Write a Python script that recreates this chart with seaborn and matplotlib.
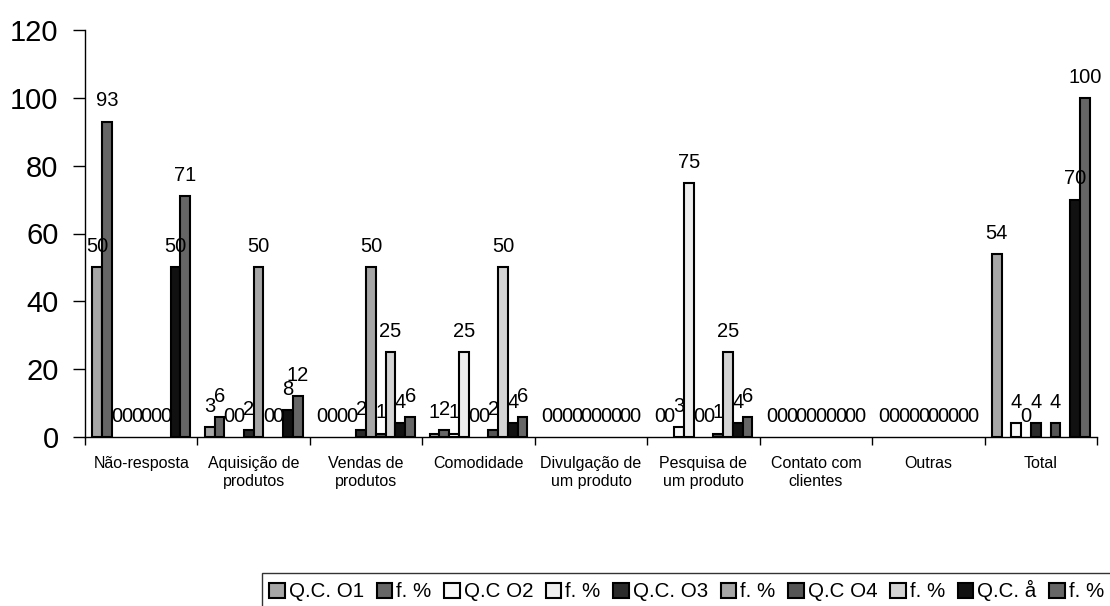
import numpy as np
import pandas as pd
import matplotlib
matplotlib.use("Agg")
import matplotlib.pyplot as plt
import seaborn as sns

categories = ["Não-resposta", "Aquisição de\nprodutos", "Vendas de\nprodutos", "Comodidade",
              "Divulgação de\num produto", "Pesquisa de\num produto", "Contato com\nclientes",
              "Outras", "Total"]
series_labels = ["Q.C. O1", "f. %", "Q.C O2", "f. %", "Q.C. O3", "f. %", "Q.C O4", "f. %", "Q.C. å", "f. %"]
nan = np.nan
s1 = [50, 3, 0, 1, 0, 0, 0, 0, 54]
s2 = [93, 6, 0, 2, 0, 0, 0, 0, nan]
s3 = [0, 0, 0, 1, 0, 3, 0, 0, 4]
s4 = [0, 0, 0, 25, 0, 75, 0, 0, 0]
s5 = [0, 2, 2, 0, 0, 0, 0, 0, 4]
s6 = [0, 50, 50, 0, 0, 0, 0, 0, nan]
s7 = [0, 0, 1, 2, 0, 1, 0, 0, 4]
s8 = [0, 0, 25, 50, 0, 25, 0, 0, nan]
s9 = [50, 8, 4, 4, 0, 4, 0, 0, 70]
s10 = [71, 12, 6, 6, 0, 6, 0, 0, 100]
series_values = [s1, s2, s3, s4, s5, s6, s7, s8, s9, s10]
colors = ["#A6A6A6", "#666666", "#F8F8F8", "#EEEEEE", "#2B2B2B",
          "#A6A6A6", "#555555", "#D4D4D4", "#111111", "#666666"]

keys = [f"s{i}" for i in range(len(series_labels))]
rows = []
for k, vals in zip(keys, series_values):
    for c, v in zip(categories, vals):
        rows.append({"cat": c, "key": k, "val": v})
df = pd.DataFrame(rows)

sns.set_style("white")
plt.rcParams["font.family"] = ["Liberation Sans", "DejaVu Sans"]
plt.rcParams["text.color"] = "black"
plt.rcParams["xtick.color"] = "black"
plt.rcParams["ytick.color"] = "black"
plt.rcParams["axes.labelcolor"] = "black"

fig = plt.figure(figsize=(11.1, 6.06), dpi=100)
ax = fig.add_axes([85/1110, 1-437/606, (1097-85)/1110, (437-30)/606])

sns.barplot(data=df, x="cat", y="val", hue="key", hue_order=keys, order=categories,
            palette=dict(zip(keys, colors)), saturation=1, width=0.87, dodge=True,
            edgecolor="black", linewidth=1.5, errorbar=None, ax=ax)

for cont in ax.containers:
    ax.bar_label(cont, labels=[f"{r.get_height():g}" for r in cont], padding=8,
                 fontsize=14.5, color="black")
    for r in cont:
        if r.get_height() == 0:
            r.set_linewidth(0)

ax.set_ylim(0, 120)
ax.set_xlim(-0.5, len(categories) - 0.5)
ax.set_yticks(range(0, 121, 20))
ax.tick_params(axis="y", labelsize=21, length=9, width=1, direction="out", pad=10, left=True)
ax.set_xticks(range(len(categories)))
ax.set_xticklabels(categories, fontsize=11.5)
ax.tick_params(axis="x", which="major", length=0, pad=14)
ax.set_xticks(np.arange(-0.5, len(categories) + 0.5, 1), minor=True)
ax.tick_params(axis="x", which="minor", length=6, width=1, direction="out", bottom=True)
ax.set_xlabel("")
ax.set_ylabel("")
for sp in ["top", "right"]:
    ax.spines[sp].set_visible(False)
for sp in ["left", "bottom"]:
    ax.spines[sp].set_color("black")
    ax.spines[sp].set_linewidth(1)

handles, _ = ax.get_legend_handles_labels()
ax.get_legend().remove()
leg = fig.legend(handles, series_labels, loc="upper left", bbox_to_anchor=(262/1110, 1-573/606),
                 ncol=10, fontsize=14.8, frameon=True, fancybox=False, edgecolor="black",
                 handlelength=0.75, handleheight=0.75, handletextpad=0.2, columnspacing=0.62,
                 borderpad=0.35, borderaxespad=0)
leg.get_frame().set_linewidth(1)

fig.savefig("out.png", dpi=100)
